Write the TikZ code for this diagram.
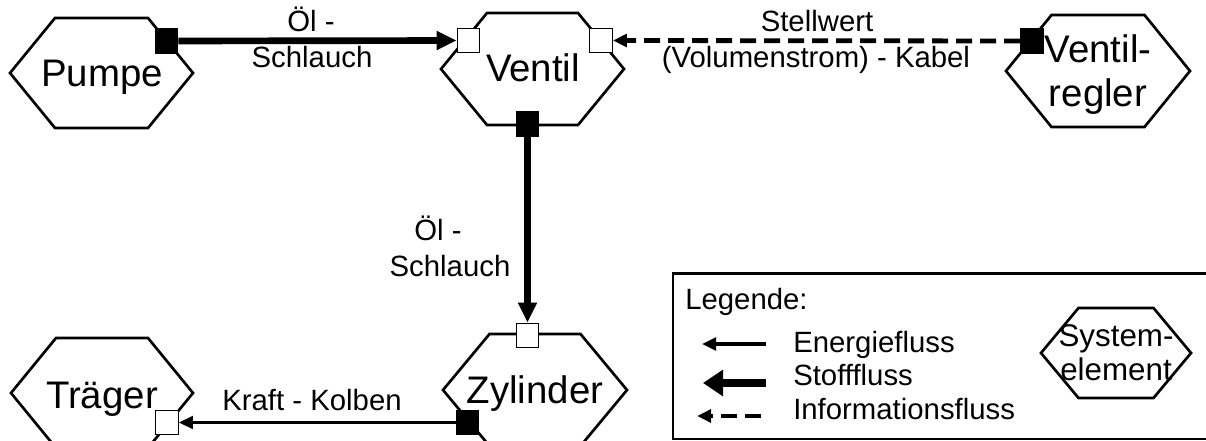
\documentclass[tikz,border=0pt]{standalone}
\usepackage{fontspec}
\setmainfont{Liberation Sans}
\usetikzlibrary{arrows.meta}
\pgfdeclarelayer{background}
\pgfsetlayers{background,main}
\newcommand{\myhex}[5]{%
  \draw[hexline] ({#1-#3},#2) -- ({#1-#4},{#2-#5}) -- ({#1+#4},{#2-#5}) -- ({#1+#3},#2) -- ({#1+#4},{#2+#5}) -- ({#1-#4},{#2+#5}) -- cycle;}
\begin{document}
\begin{tikzpicture}[x=0.75pt,y=-0.75pt,
  hexline/.style={line width=2pt, line join=miter},
  bigtext/.style={font=\fontsize{28.8}{34}\selectfont, inner sep=0pt, anchor=base},
  lbltext/.style={font=\fontsize{22}{26}\selectfont, inner sep=0pt, anchor=base},
  legtext/.style={font=\fontsize{22}{26}\selectfont, inner sep=0pt, anchor=base west},
  inport/.style={draw, line width=0.9pt, fill=white, minimum width=17pt, minimum height=18.5pt, inner sep=0pt},
  outport/.style={draw, line width=0.9pt, fill=black, minimum width=17pt, minimum height=18.5pt, inner sep=0pt},
  stoff/.style={line width=5pt, -{Triangle[length=15pt,width=13.5pt]}},
  stoffleg/.style={line width=5.5pt, -{Triangle[length=15pt,width=19pt]}},
  energie/.style={line width=2.4pt, -{Triangle[length=10.5pt,width=9.5pt]}},
  info/.style={line width=3.6pt, dash pattern=on 12pt off 6pt, -{Triangle[length=10.5pt,width=9.5pt]}},
]
\clip (0,0) rectangle (1206,441);

% system element texts
\node[bigtext] (pumpe) at (102,87) {Pumpe};
\node[bigtext] (ventil) at (533,82) {Ventil};
\node[bigtext] (regler1) at (1098,63) {Ventil-};
\node[bigtext] (regler2) at (1098,107) {regler};
\node[bigtext] (zylinder) at (535,403) {Zylinder};
\node[bigtext] (traeger) at (102,408) {Träger};

% ports
\node[outport] (pumpeout) at (166.5,41) {};
\node[inport] (ventilinl) at (468.5,40.5) {};
\node[inport] (ventilinr) at (601,40.5) {};
\node[outport] (ventilout) at (527.5,124) {};
\node[outport] (reglerout) at (1032,41) {};
\node[inport] (zylin) at (527.5,335.5) {};
\node[outport] (zylout) at (467.5,422.5) {};
\node[inport] (traegerin) at (167,422.5) {};

% connector labels
\node[lbltext] (l1a) at (311,32) {Öl -};
\node[lbltext] (l1b) at (312,68) {Schlauch};
\node[lbltext] (l2a) at (817,32) {Stellwert};
\node[lbltext] (l2b) at (816,68) {(Volumenstrom) - Kabel};
\node[lbltext] (l3a) at (438,241) {Öl -};
\node[lbltext] (l3b) at (450,277) {Schlauch};
\node[lbltext] (l4) at (312,411) {Kraft - Kolben};

% legend
\draw[line width=2pt] (673,273.5) rectangle (1230,439);
\node[legtext] (leg) at (685,310) {Legende:};
\node[legtext] (legE) at (793,353) {Energiefluss};
\node[legtext] (legS) at (793,386) {Stofffluss};
\node[legtext] (legI) at (793,419) {Informationsfluss};
\coordinate (eA) at (766,344); \coordinate (eB) at (702,344);
\coordinate (sA) at (766,383); \coordinate (sB) at (703,383);
\coordinate (iA) at (761,416); \coordinate (iB) at (697,416);
\draw[energie] (eA) -- (eB);
\draw[stoffleg] (sA) -- (sB);
\draw[info] (iA) -- (iB);
\node[font=\fontsize{23.5}{28}\selectfont, inner sep=0pt, anchor=base] (sys1) at (1116,347) {System-};
\node[font=\fontsize{23.5}{28}\selectfont, inner sep=0pt, anchor=base] (sys2) at (1116,381) {element};

\begin{pgfonlayer}{background}
  \myhex{101.5}{73}{91.5}{46.5}{55}
  \myhex{532.5}{69}{91.5}{45.5}{56}
  \myhex{1098}{71}{92}{46.5}{56}
  \myhex{535}{390}{92}{45.5}{56}
  \myhex{102}{393}{91}{46}{55}
  \myhex{1116}{353}{75}{37.5}{45}
  \draw[stoff] (pumpeout.east) -- (ventilinl.west);
  \draw[info] (reglerout.west) -- (ventilinr.east);
  \draw[stoff] (ventilout.south) -- (zylin.north);
  \draw[energie] (zylout.west) -- (traegerin.east);
\end{pgfonlayer}
\end{tikzpicture}
\end{document}
